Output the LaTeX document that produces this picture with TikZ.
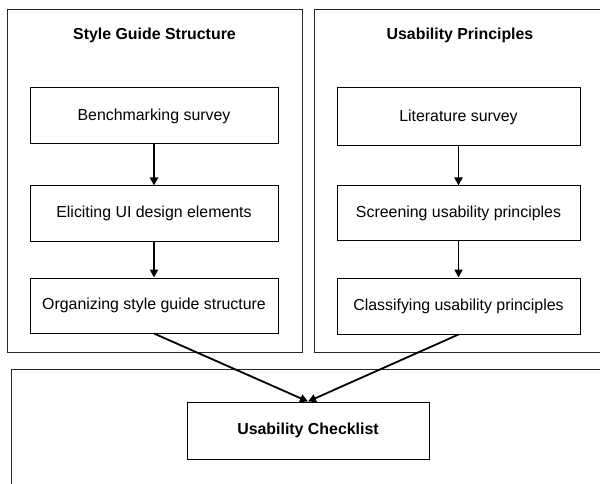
\documentclass[tikz,border=0pt]{standalone}
\usepackage{fontspec}
\setmainfont{Liberation Sans}
\usetikzlibrary{arrows.meta}
\begin{document}
\begin{tikzpicture}[x=1pt,y=-1pt,
  every node/.style={font=\fontsize{15.9}{19}\selectfont, inner sep=0pt},
  panel/.style={draw=black!85, line width=1.2pt, rectangle, anchor=north west},
  stepbox/.style={draw=black, line width=1pt, rectangle, fill=white},
  heading/.style={font=\fontsize{15.9}{19}\selectfont\bfseries},
  flow/.style={draw=black, line width=1.8pt, -{Triangle[length=8pt,width=8pt]}}
]
\useasboundingbox (0,0) rectangle (600,484);
\clip (0,0) rectangle (600,484);

% outer panels
\node[panel, minimum width=295pt, minimum height=343pt] (left) at (7,9) {};
\node[panel, minimum width=300pt, minimum height=343pt] (right) at (314,9) {};
\node[panel, minimum width=600pt, minimum height=130pt] (bottom) at (11,369) {};

% panel headings
\node[heading] (ltitle) at (154.5,35) {Style Guide Structure};
\node[heading] (rtitle) at (460,35) {Usability Principles};

% left column steps
\node[stepbox, minimum width=248pt, minimum height=56pt] (l1) at (154,116) {Benchmarking survey};
\node[stepbox, minimum width=248pt, minimum height=55pt] (l2) at (154,213.5) {Eliciting UI design elements};
\node[stepbox, minimum width=248pt, minimum height=55pt] (l3) at (154,305.5) {Organizing style guide structure};

% right column steps
\node[stepbox, minimum width=243pt, minimum height=58pt] (r1) at (458.5,117) {Literature survey};
\node[stepbox, minimum width=243pt, minimum height=54pt] (r2) at (458.5,213) {Screening usability principles};
\node[stepbox, minimum width=243pt, minimum height=56pt] (r3) at (458.5,306) {Classifying usability principles};

% result
\node[stepbox, minimum width=242pt, minimum height=57pt, heading] (check) at (308,430.5) {Usability Checklist};

% connectors
\draw[flow] (l1) -- (l2);
\draw[flow] (l2) -- (l3);
\draw[flow] (r1) -- (r2);
\draw[flow] (r2) -- (r3);
\draw[flow] (l3.south) -- (check.north);
\draw[flow] (r3.south) -- (check.north);
\end{tikzpicture}
\end{document}
